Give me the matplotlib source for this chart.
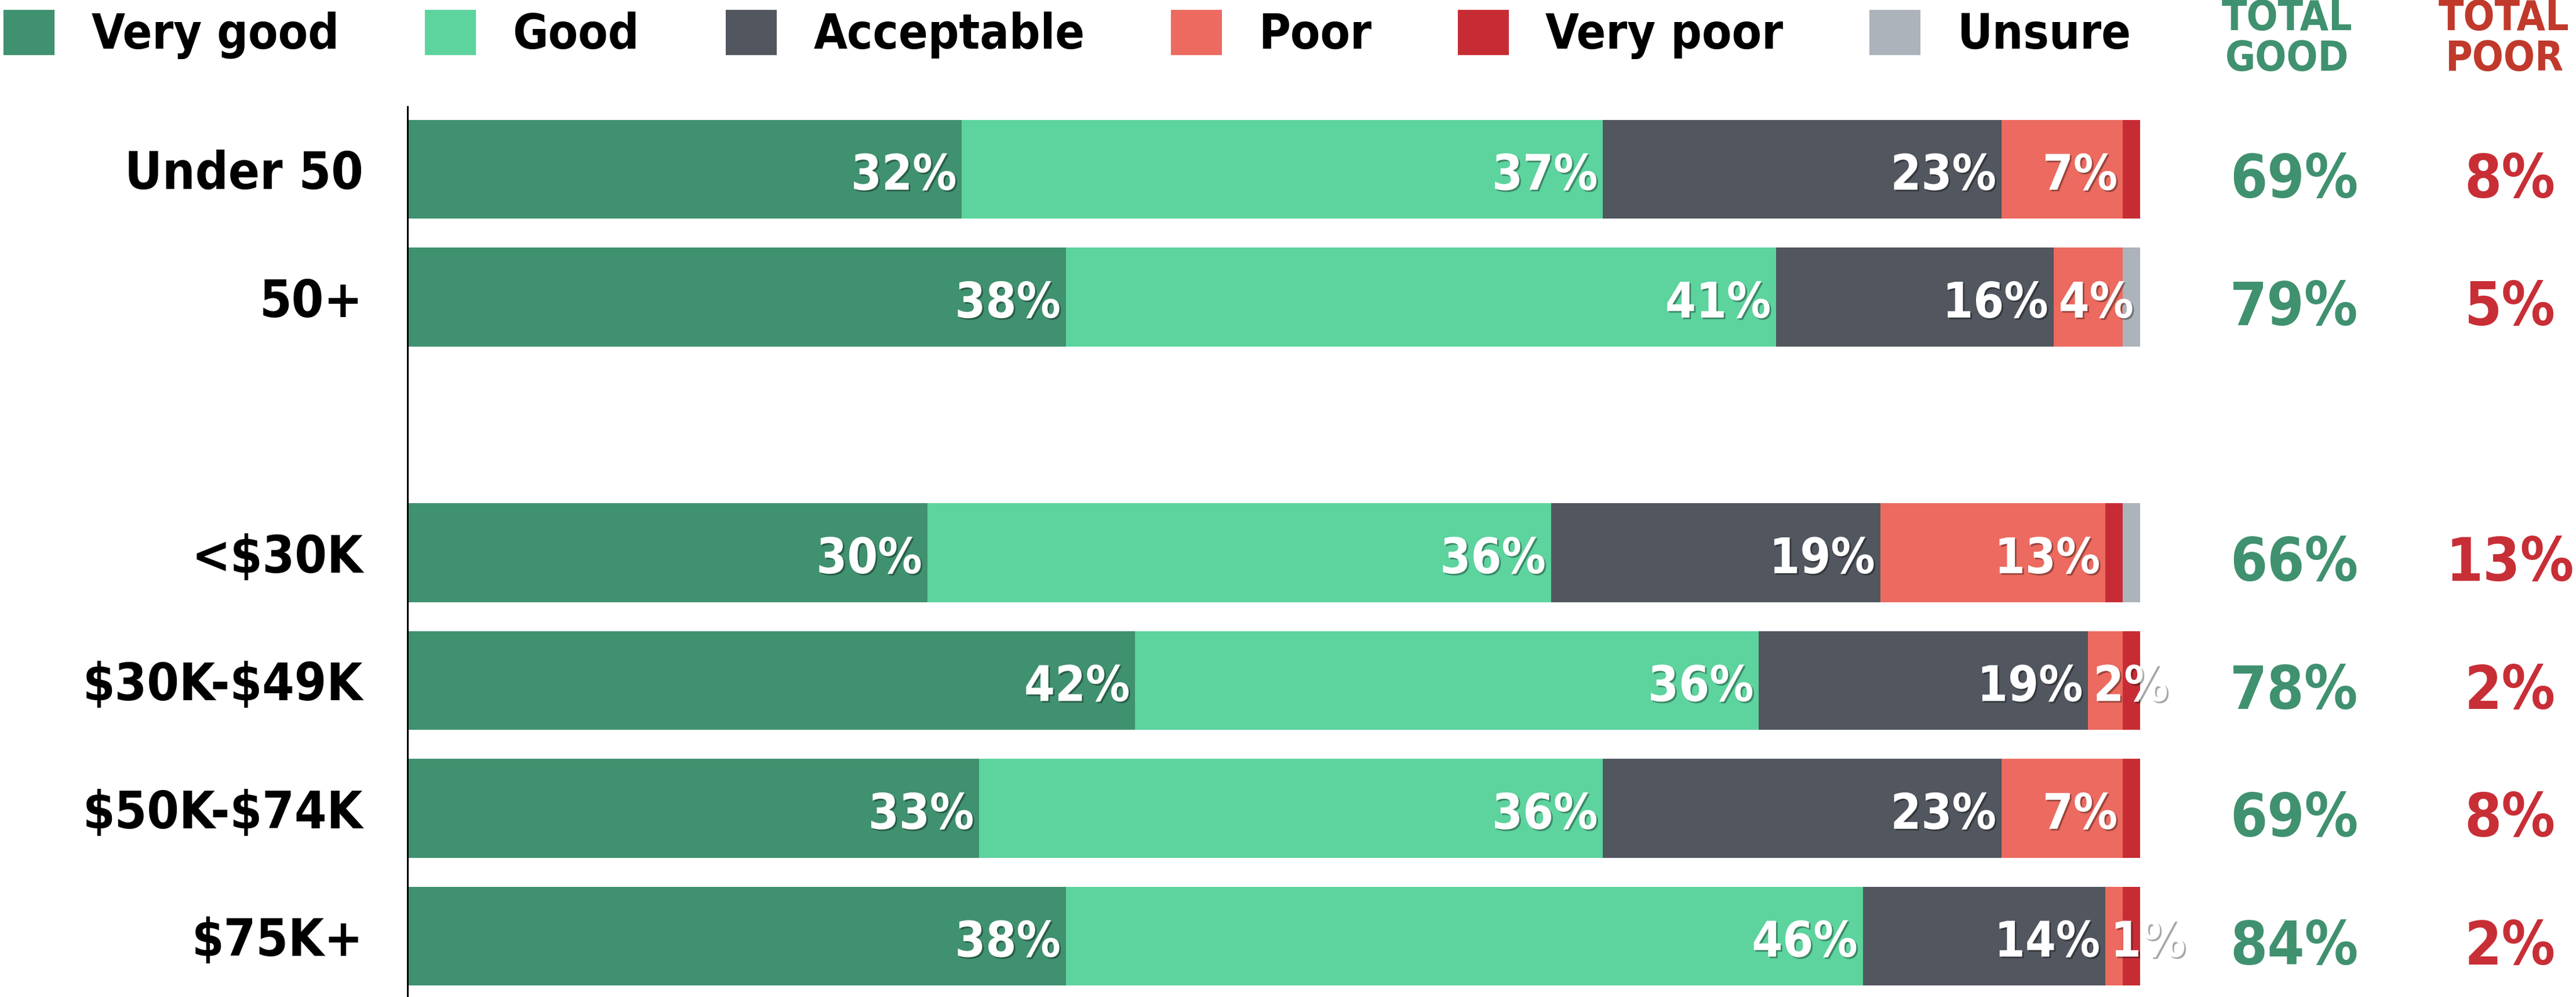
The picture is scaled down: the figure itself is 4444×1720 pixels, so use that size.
import matplotlib
matplotlib.use("Agg")
import matplotlib.pyplot as plt
import matplotlib.patheffects as pe
from matplotlib import transforms

plt.rcParams['font.family'] = 'DejaVu Sans'
plt.rcParams['font.stretch'] = 'condensed'
plt.rcParams['font.weight'] = 'bold'
plt.rcParams['text.parse_math'] = False

groups = ['Under 50', '50+', '<$30K', '$30K-$49K', '$50K-$74K', '$75K+']
rows = [0, 1, 3, 4, 5, 6]

very_good = [32, 38, 30, 42, 33, 38]
good = [37, 41, 36, 36, 36, 46]
acceptable = [23, 16, 19, 19, 23, 14]
poor = [7, 4, 13, 2, 7, 1]
very_poor = [1, 0, 1, 1, 1, 1]
unsure = [0, 1, 1, 0, 0, 0]

total_good = [69, 79, 66, 78, 69, 84]
total_poor = [8, 5, 13, 2, 8, 2]

series = [
    ('Very good', very_good, '#40916F', True),
    ('Good', good, '#5DD39E', True),
    ('Acceptable', acceptable, '#51565F', True),
    ('Poor', poor, '#EC6A5F', True),
    ('Very poor', very_poor, '#C72C35', False),
    ('Unsure', unsure, '#ADB3BA', False),
]

green = '#40916F'
red = '#C82E36'

fig = plt.figure(figsize=(44.44, 17.2), dpi=100)
ax = fig.add_axes([703 / 4444, 0, (3692 - 703) / 4444, 1 - 184 / 1720])

shadow = [pe.withSimplePatchShadow(offset=(2, -2), shadow_rgbFace='black', alpha=0.35)]

lefts = [0] * len(rows)
for name, vals, color, labelled in series:
    ax.barh(rows, vals, left=lefts, height=0.775, color=color, label=name)
    if labelled:
        for y, l, v in zip(rows, lefts, vals):
            if v <= 0:
                continue
            if v >= 5:
                x, ha = l + v - 0.3, 'right'
            else:
                x, ha = l + 0.3, 'left'
            ax.text(x, y + 0.16, f'{v}%', ha=ha, va='baseline', color='white',
                    fontsize=61, path_effects=shadow, zorder=5)
    lefts = [a + b for a, b in zip(lefts, vals)]

ax.set_xlim(0, 100)
ax.set_ylim(6.476, -0.49)
ax.set_yticks(rows, groups)
ax.tick_params(axis='y', length=0, pad=55, labelsize=64)
ax.tick_params(axis='x', bottom=False, labelbottom=False)
for side in ['top', 'right', 'bottom']:
    ax.spines[side].set_visible(False)
ax.spines['left'].set_linewidth(2.2)
ax.spines['left'].set_color('black')
ax.patch.set_visible(False)

# summary columns to the right of the bars
trans = transforms.blended_transform_factory(fig.transFigure, ax.transData)
good_x = 3958 / 4444
poor_x = 4330 / 4444
for y, g, p in zip(rows, total_good, total_poor):
    ax.text(good_x, y + 0.22, f'{g}%', transform=trans, ha='center', va='baseline',
            color=green, fontsize=74, clip_on=False)
    ax.text(poor_x, y + 0.22, f'{p}%', transform=trans, ha='center', va='baseline',
            color=red, fontsize=74, clip_on=False)

for x, c, word in [(3946 / 4444, green, 'GOOD'), (4320 / 4444, '#C0392B', 'POOR')]:
    fig.text(x, 1 - 52 / 1720, 'TOTAL', ha='center', va='baseline', color=c, fontsize=51)
    fig.text(x, 1 - 122 / 1720, word, ha='center', va='baseline', color=c, fontsize=51)

handles, labels = ax.get_legend_handles_labels()
fig.legend(handles, labels, loc='upper left', bbox_to_anchor=(6 / 4444, 1 - 17 / 1720),
           ncol=6, frameon=False, fontsize=60, handlelength=1.06, handleheight=1.06,
           handletextpad=0.76, columnspacing=1.78, borderpad=0, borderaxespad=0)

fig.savefig('out.png')
plt.close(fig)
